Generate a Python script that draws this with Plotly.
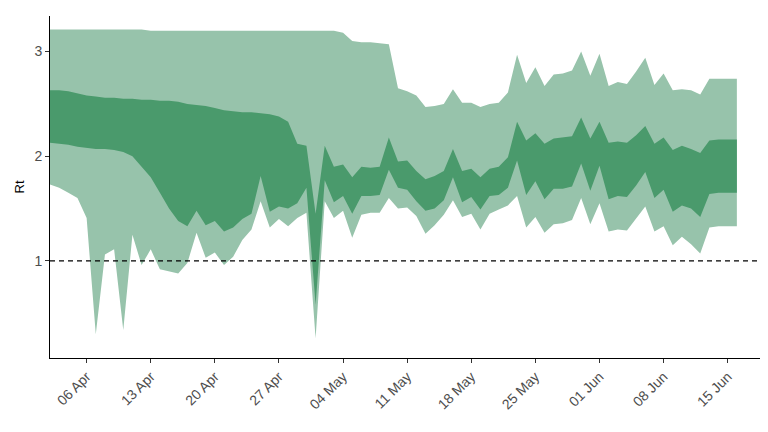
import pandas as pd
import plotly.graph_objects as go

# Rt 推估區間（每日），由 2020-04-02 起
dates = pd.date_range("2020-04-02", periods=76, freq="D")

upper_90 = ([3.21] * 11 + [3.20] * 21 +
            [3.18, 3.10, 3.09, 3.09, 3.08, 3.07, 2.65, 2.62, 2.58,
             2.47, 2.48, 2.50, 2.64, 2.51, 2.51, 2.47, 2.50, 2.51, 2.61,
             2.97, 2.70, 2.85, 2.67, 2.78, 2.79, 2.82, 3.00, 2.77, 2.98,
             2.67, 2.71, 2.69, 2.81, 2.94, 2.68, 2.79, 2.63, 2.64, 2.63,
             2.59, 2.74, 2.74, 2.74, 2.74])

upper_50 = [2.63, 2.63, 2.62, 2.60, 2.58, 2.57, 2.56, 2.56, 2.55, 2.55,
            2.54, 2.54, 2.53, 2.53, 2.52, 2.50, 2.49, 2.48, 2.46, 2.44,
            2.43, 2.42, 2.42, 2.41, 2.40, 2.38, 2.33, 2.12, 2.10, 1.45,
            2.10, 1.90, 1.92, 1.80, 1.90, 1.89, 1.90, 2.18, 1.95, 1.96,
            1.86, 1.78, 1.81, 1.86, 2.07, 1.86, 1.88, 1.80, 1.88, 1.90,
            1.99, 2.33, 2.15, 2.22, 2.12, 2.17, 2.18, 2.19, 2.37, 2.17,
            2.33, 2.13, 2.14, 2.13, 2.20, 2.29, 2.12, 2.18, 2.06, 2.10,
            2.07, 2.03, 2.15, 2.16, 2.16, 2.16]

lower_50 = [2.13, 2.12, 2.11, 2.09, 2.08, 2.07, 2.07, 2.06, 2.04, 2.00,
            1.90, 1.80, 1.65, 1.50, 1.38, 1.33, 1.48, 1.34, 1.38, 1.28,
            1.32, 1.40, 1.45, 1.81, 1.47, 1.52, 1.50, 1.55, 1.70, 0.58,
            1.77, 1.56, 1.62, 1.45, 1.62, 1.62, 1.63, 1.87, 1.70, 1.68,
            1.57, 1.48, 1.50, 1.58, 1.80, 1.56, 1.61, 1.49, 1.62, 1.63,
            1.70, 1.96, 1.63, 1.76, 1.59, 1.69, 1.69, 1.71, 1.93, 1.67,
            1.91, 1.59, 1.62, 1.61, 1.72, 1.85, 1.60, 1.68, 1.47, 1.53,
            1.50, 1.42, 1.64, 1.65, 1.65, 1.65]

lower_90 = [1.73, 1.70, 1.65, 1.60, 1.41, 0.30, 1.06, 1.11, 0.34, 1.25,
            0.96, 1.11, 0.92, 0.90, 0.88, 0.98, 1.27, 1.03, 1.08, 0.96,
            1.04, 1.20, 1.30, 1.57, 1.32, 1.40, 1.33, 1.41, 1.46, 0.26,
            1.57, 1.41, 1.48, 1.22, 1.44, 1.46, 1.46, 1.60, 1.50, 1.51,
            1.43, 1.26, 1.34, 1.44, 1.58, 1.42, 1.45, 1.30, 1.45, 1.49,
            1.53, 1.62, 1.32, 1.42, 1.27, 1.35, 1.36, 1.39, 1.60, 1.35,
            1.55, 1.28, 1.30, 1.29, 1.41, 1.52, 1.28, 1.33, 1.15, 1.23,
            1.16, 1.07, 1.32, 1.33, 1.33, 1.33]

LIGHT = "#97c3ab"
DARK = "#4a9a6c"

fig = go.Figure()

# 90% 區間
fig.add_trace(go.Scatter(x=dates, y=lower_90, mode="lines",
                         line=dict(width=0), showlegend=False, hoverinfo="skip"))
fig.add_trace(go.Scatter(x=dates, y=upper_90, mode="lines", fill="tonexty",
                         fillcolor=LIGHT, line=dict(width=0), showlegend=False))
# 50% 區間
fig.add_trace(go.Scatter(x=dates, y=lower_50, mode="lines",
                         line=dict(width=0), showlegend=False, hoverinfo="skip"))
fig.add_trace(go.Scatter(x=dates, y=upper_50, mode="lines", fill="tonexty",
                         fillcolor=DARK, line=dict(width=0), showlegend=False))

fig.add_hline(y=1, line=dict(color="black", width=1.3, dash="5px,4px"))

tick_dates = pd.date_range("2020-04-06", "2020-06-15", freq="7D")

fig.update_layout(
    width=768, height=432,
    margin=dict(l=42, r=8, t=8, b=82),
    plot_bgcolor="white", paper_bgcolor="white",
    font=dict(family="Liberation Sans, Arial", size=14, color="#4d4d4d"),
    xaxis=dict(
        range=[pd.Timestamp("2020-04-02"), pd.Timestamp("2020-04-02") + pd.Timedelta(days=78.4)],
        tickvals=tick_dates, ticktext=[d.strftime("%d %b") for d in tick_dates],
        tickangle=-45, showgrid=False, zeroline=False, automargin=False,
        showline=True, linecolor="black", linewidth=1,
        ticks="outside", ticklen=4, tickcolor="#333",
    ),
    yaxis=dict(
        range=[0.072, 3.34], tickvals=[1, 2, 3], automargin=False,
        title=dict(text="Rt", font=dict(color="black", size=13), standoff=6),
        showgrid=False, zeroline=False,
        showline=True, linecolor="black", linewidth=1,
        ticks="outside", ticklen=4, tickcolor="#333",
    ),
)

fig.write_html("out.html")
